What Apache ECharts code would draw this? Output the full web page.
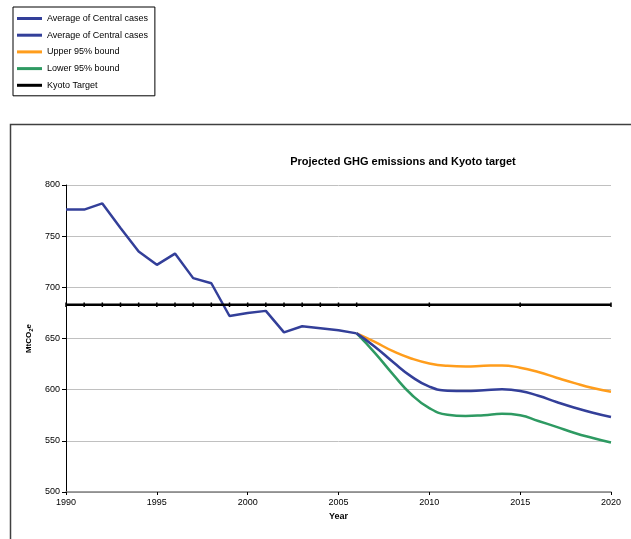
<!DOCTYPE html>
<html>
<head>
<meta charset="utf-8">
<script src="https://cdn.jsdelivr.net/npm/echarts@6/dist/echarts.min.js"></script>
<style>html,body{margin:0;padding:0;background:#fff;}#c{width:631px;height:539px;}</style>
</head>
<body>
<div id="c"></div>
<script>
// Historical central case (1990-2006)
var histYears = [1990,1991,1992,1993,1994,1995,1996,1997,1998,1999,2000,2001,2002,2003,2004,2005,2006];
var histValues = [776,776,782,758,735,722,733,709,704,672,675,677,656,662,660,658,655];
// Projections
var projYears = [2006,2007,2008,2009,2010,2011,2012,2013,2014,2015,2016,2017,2018,2019,2020];
var centralProj = [655,642,627,613,603,599,598.6,599.5,600.3,598.8,594,588,582.4,577.5,573.3];
var upperProj = [655,646.7,637.6,630.5,625.6,623.3,622.7,623.3,623.7,621.4,617.2,611.7,606.4,601.6,598];
var lowerProj = [655,636,615,595.5,582,575.5,574.3,575.1,576.4,575,569.4,563.6,557.7,552.8,548.3];
// Kyoto target
var kyotoYears = [1990,1991,1992,1993,1994,1995,1996,1997,1998,1999,2000,2001,2002,2003,2004,2005,2006,2010,2015,2020];
var kyotoValue = 683;
var yTicks = [500,550,600,650,700,750,800];
var xTicks = [1990,1995,2000,2005,2010,2015,2020];

function pairs(xs, ys){ return xs.map(function(x,i){ return [x, ys[i]]; }); }
var ZW = '\u200b';
var F = '"Liberation Sans", Arial, sans-serif';
var chart = echarts.init(document.getElementById('c'), null, {renderer:'canvas'});
chart.setOption({
  animation: false,
  textStyle: {fontFamily: F},
  graphic: [{
    type: 'rect', shape: {x: 10.5, y: 124.5, width: 700, height: 500},
    style: {fill: 'none', stroke: '#404040', lineWidth: 1.5}, silent: true, z: -1
  }],
  title: {
    text: 'Projected GHG emissions and Kyoto target',
    left: 398, top: 151, textAlign: 'center',
    textStyle: {fontSize: 11, fontWeight: 'bold', color: '#000', fontFamily: F}
  },
  legend: {
    orient: 'vertical', left: 13, top: 7,
    padding: [6, 7, 5, 4],
    borderColor: '#000', borderWidth: 1,
    itemWidth: 25, itemHeight: 3, itemGap: 5.7,
    icon: 'rect',
    textStyle: {fontSize: 9, color: '#000', fontFamily: F, lineHeight: 11},
    formatter: function(n){ return n.replace(/\u200b/g, ''); },
    data: ['Average of Central cases', 'Average of Central cases' + ZW, 'Upper 95% bound', 'Lower 95% bound', 'Kyoto Target']
  },
  grid: {left: 66, right: 20, top: 185, bottom: 47},
  xAxis: {
    type: 'value', min: xTicks[0], max: xTicks[xTicks.length-1], interval: 5,
    name: 'Year', nameLocation: 'middle', nameGap: 20,
    nameTextStyle: {fontSize: 9, fontWeight: 'bold', color: '#000', fontFamily: F},
    axisLine: {lineStyle: {color: '#808080', width: 1.5}},
    axisTick: {show: true, length: 3, lineStyle: {color: '#000'}},
    axisLabel: {fontSize: 9, color: '#000', margin: 6, fontFamily: F,
      formatter: function(v){ return String(v); }},
    splitLine: {show: false}
  },
  yAxis: {
    type: 'value', min: yTicks[0], max: yTicks[yTicks.length-1], interval: 50,
    name: 'MtCO{s|2}e', nameLocation: 'middle', nameGap: 30, nameRotate: 90,
    nameTextStyle: {fontSize: 8, fontWeight: 'bold', color: '#000', fontFamily: F,
      rich: {s: {fontSize: 6, fontWeight: 'bold', verticalAlign: 'bottom', padding: [4,0,0,0]}}},
    axisLine: {show: true, lineStyle: {color: '#000', width: 1}},
    axisTick: {show: true, length: 4, lineStyle: {color: '#000'}},
    axisLabel: {fontSize: 9, color: '#000', margin: 6, fontFamily: F},
    splitLine: {show: true, lineStyle: {color: '#c0c0c0', width: 1}}
  },
  series: [
    {name: 'Average of Central cases', type: 'line', data: pairs(histYears, histValues),
      showSymbol: false, lineStyle: {color: '#333f99', width: 2.5}, itemStyle: {color: '#333f99'}, z: 3},
    {name: 'Average of Central cases' + ZW, type: 'line', data: pairs(projYears, centralProj), smooth: 0.5,
      showSymbol: false, lineStyle: {color: '#333f99', width: 2.5}, itemStyle: {color: '#333f99'}, z: 3},
    {name: 'Upper 95% bound', type: 'line', data: pairs(projYears, upperProj), smooth: 0.5,
      showSymbol: false, lineStyle: {color: '#ff9d1c', width: 2.5}, itemStyle: {color: '#ff9d1c'}, z: 2},
    {name: 'Lower 95% bound', type: 'line', data: pairs(projYears, lowerProj), smooth: 0.5,
      showSymbol: false, lineStyle: {color: '#2e9a62', width: 2.5}, itemStyle: {color: '#2e9a62'}, z: 2},
    {name: 'Kyoto Target', type: 'line', data: kyotoYears.map(function(y){ return [y, kyotoValue]; }),
      symbol: 'rect', symbolSize: [1.5, 4.5], showSymbol: true,
      lineStyle: {color: '#000', width: 2.5}, itemStyle: {color: '#000'}, z: 4}
  ]
});
</script>
</body>
</html>
